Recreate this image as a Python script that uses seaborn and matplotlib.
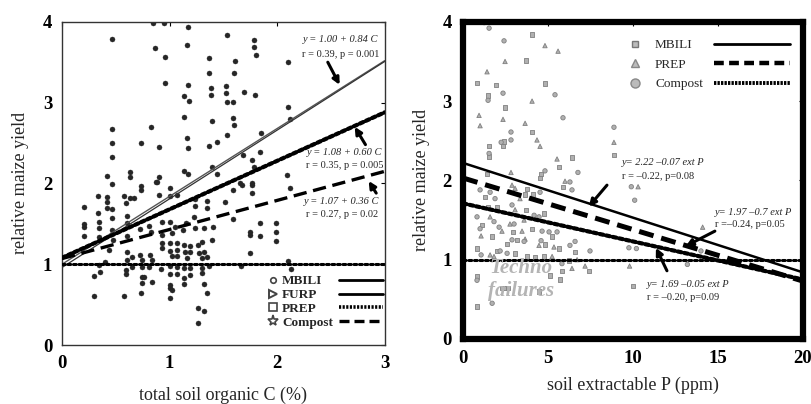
import matplotlib
matplotlib.use("Agg")
import matplotlib.pyplot as plt
import matplotlib.transforms as mtransforms
from matplotlib.lines import Line2D
import seaborn as sns
import pandas as pd
import numpy as np

sns.set_theme(style="white")
plt.rcParams['font.family'] = ['Liberation Serif', 'DejaVu Serif']

# ---------------- Left panel data: total soil organic C (%) vs relative yield
soc_x_upper = [0.46,0.85,0.95,1.17,0.86,0.96,1.16,1.37,1.37,0.96,1.17,1.38,1.38,1.13,1.18,1.13,1.39,0.46,0.83,0.46,
               0.73,0.90,1.16,1.17,1.37,1.44,0.46,0.42,0.63,0.63,0.90,0.87,1.13,1.17,1.39,1.44,
               1.53,1.78,1.78,1.80,1.61,2.10,1.60,1.52,1.52,1.69,1.79,1.53,1.59,2.10,1.59,1.60,2.12,1.53,1.85,1.68,
               1.77,1.84,1.78,2.09,1.65,1.77,
               1.59,1.67,1.77,1.77,2.12,1.51,1.59,1.84,1.99,1.75,1.75,1.84,1.99,1.99,1.75,1.66,2.10,2.13]
soc_y_upper = [3.79,3.99,3.99,3.94,3.67,3.57,3.71,3.55,3.37,3.24,3.22,3.18,3.10,3.08,3.02,2.82,2.77,2.67,2.70,2.50,
               2.50,2.45,2.56,2.44,2.46,2.51,2.33,2.09,2.14,2.08,2.08,2.02,2.15,2.12,2.20,2.12,
               3.84,3.78,3.69,3.59,3.52,3.50,3.37,3.21,3.12,3.13,3.10,3.01,3.01,2.94,2.81,2.72,2.80,2.60,2.63,2.35,
               2.29,2.39,2.20,2.10,2.01,2.01,
               1.92,1.98,1.98,1.88,1.94,1.77,1.56,1.51,1.51,1.40,1.36,1.35,1.40,1.29,1.14,0.98,1.04,0.94]
soc_x_lower = [0.46,0.73,0.73,0.88,0.33,0.42,0.42,0.58,0.63,0.67,0.20,0.42,0.46,0.33,0.59,0.90,1.00,1.00,1.07,1.24,
               1.24,1.35,1.35,0.20,0.20,0.34,0.34,0.46,0.46,0.60,0.60,0.20,0.34,0.47,0.60,0.72,0.81,0.83,0.93,1.00,
               1.05,0.93,1.02,1.12,1.15,1.23,1.24,1.32,1.40,0.93,0.93,1.00,1.00,1.07,1.07,1.13,1.14,1.19,1.19,1.26,
               1.27,1.30,1.32,1.39,1.02,1.07,1.16,1.30,1.35,0.44,0.60,0.65,0.72,0.74,0.82,0.84,0.60,0.40,0.34,0.30,
               0.35,0.59,0.59,0.65,0.74,0.74,0.81,0.92,1.00,1.00,1.07,1.07,1.13,1.13,1.19,1.19,1.30,1.30,1.37,0.74,
               0.76,0.84,1.00,1.00,1.02,1.13,1.32,0.30,0.58,0.73,1.00,1.26,1.32,1.26,1.35]
soc_y_lower = [1.99,1.97,1.92,2.02,1.85,1.83,1.77,1.85,1.82,1.82,1.71,1.70,1.68,1.63,1.76,1.86,1.94,1.85,1.86,1.81,
               1.72,1.78,1.70,1.50,1.46,1.52,1.45,1.57,1.42,1.60,1.51,1.35,1.34,1.30,1.35,1.44,1.47,1.40,1.52,1.52,
               1.46,1.36,1.39,1.42,1.51,1.59,1.45,1.45,1.46,1.26,1.20,1.26,1.16,1.26,1.18,1.24,1.15,1.23,1.15,1.24,
               1.14,1.28,1.15,1.30,1.10,1.10,1.08,1.08,1.09,1.18,1.15,1.09,1.11,1.05,1.11,1.05,1.05,1.03,0.99,0.85,
               0.90,0.93,0.88,0.97,0.97,0.84,0.97,0.94,0.98,0.88,0.97,0.88,0.95,0.83,0.95,0.87,0.95,0.89,0.98,0.77,
               0.84,0.78,0.74,0.71,0.68,0.76,0.76,0.61,0.61,0.64,0.58,0.46,0.42,0.27,0.64]

# regression lines (intercept, slope) for left panel
soc_line_names = ["MBILI", "FURP", "PREP", "Compost"]
soc_intercepts = [1.00, 0.96, 1.08, 1.07]
soc_slopes = [0.84, 0.85, 0.60, 0.36]
soc_eq_text = ["y = 1.00 + 0.84 C", "y = 1.08 + 0.60 C", "y = 1.07 + 0.36 C"]
soc_stat_text = ["r = 0.39, p = 0.001", "r = 0.35, p = 0.005", "r = 0.27, p = 0.02"]

# ---------------- Right panel data: soil extractable P (ppm)
mbili_p = [4.06,3.71,0.82,1.94,4.82,1.47,2.47,4.06,2.41,1.53,2.35,1.53,8.88,6.41,5.65,4.59,1.41,10.0,
           1.29,3.76,4.12,3.65,5.88,4.53,1.12,1.47,2.00,4.76,3.71,1.71,2.94,4.06,3.18,5.24,4.82,5.65,6.59,2.59,
           2.00,3.06,0.82,3.76,4.24,6.24,5.82,7.41,4.76,5.12,5.71,0.82,2.29,2.47,2.65,4.47,0.82]
mbili_y = [3.84,3.51,3.23,3.20,3.22,3.07,2.92,2.61,2.49,2.43,2.43,2.30,2.32,2.29,2.17,2.08,2.08,0.67,
           1.79,1.89,1.82,1.82,1.92,2.03,1.44,1.66,1.66,1.58,1.63,1.29,1.35,1.39,1.25,1.29,1.19,1.14,1.10,1.20,
           1.11,1.08,1.14,1.04,1.03,0.99,0.86,0.86,1.04,0.80,0.75,0.79,0.64,0.64,0.64,0.60,0.41]
prep_p = [4.82,5.59,2.47,1.41,4.06,0.94,1.00,2.35,3.65,4.35,4.53,8.88,5.53,2.82,10.3,14.1,9.8,2.88,3.06,3.35,
          6.00,1.59,2.76,3.59,3.06,1.06,2.29,3.47,3.65,4.47,5.35,1.59,1.82,5.24,6.71,6.41,7.18]
prep_y = [3.70,3.63,3.50,3.37,3.00,2.82,2.69,2.77,2.72,2.51,2.43,2.48,2.27,2.10,1.92,1.41,0.92,1.94,1.90,1.77,
          1.99,1.54,1.45,1.50,1.63,1.30,1.36,1.36,1.26,1.18,1.16,1.06,1.04,1.04,1.00,0.89,0.92]
compost_p = [1.53,1.24,2.41,2.35,5.41,1.47,5.88,2.82,2.82,2.24,1.53,8.88,4.82,6.76,9.9,10.1,10.2,13.2,14.0,
             1.00,1.59,1.88,4.53,6.29,6.41,0.82,1.82,2.12,3.00,4.18,4.47,2.88,1.00,2.88,3.59,4.65,5.06,5.53,4.59,
             6.29,6.59,7.47,2.18,2.59,1.06,5.82,0.82,1.71,9.76]
compost_y = [3.92,3.99,3.76,3.10,3.08,3.01,2.79,2.61,2.51,2.48,2.34,2.67,2.12,2.10,1.92,1.75,1.14,0.94,1.11,
             1.88,1.85,1.77,1.85,1.98,1.88,1.54,1.48,1.41,1.45,1.56,1.54,1.69,1.39,1.25,1.23,1.36,1.35,1.35,1.24,
             1.18,1.23,1.11,1.11,1.08,1.06,0.95,0.74,0.45,1.15]

p_line_names = ["MBILI", "PREP", "Compost"]
p_intercepts = [2.22, 2.03, 1.71]
p_slopes = [-0.069, -0.065, -0.048]
p_eq_text = ["y= 2.22 \u20130.07 ext P", "y= 1.97 \u20130.7 ext P", "y= 1.69 \u20130.05 ext P"]
p_stat_text = ["r = \u20130.22, p=0.08", "r =\u20130.24, p=0.05", "r = \u20130.20, p=0.09"]

# ---------------- figure
fig = plt.figure(figsize=(8.11, 4.04), dpi=100)
ax1 = fig.add_axes([0.0765, 0.146, 0.398, 0.800])
ax2 = fig.add_axes([0.571, 0.161, 0.419, 0.785])

tick_font = dict(fontsize=13.5, fontweight='bold')
DOT = (0, (0.9, 0.9))

# ----- left panel
df_soc = pd.DataFrame({"C": soc_x_upper + soc_x_lower, "yield": soc_y_upper + soc_y_lower})
sns.scatterplot(data=df_soc, x="C", y="yield", ax=ax1, color="#262626", s=13, marker="o",
                edgecolor="#262626", linewidth=0.3, zorder=2, legend=False)

xs = np.array([0.0, 3.0])
soc_styles = [dict(color="#555555", lw=1.0, ls="-"),
              dict(color="#333333", lw=0.9, ls="-"),
              dict(color="black", lw=3.0, ls=(0, (0.9, 0.7)), dash_capstyle="round"),
              dict(color="black", lw=2.4, ls=(0, (4, 2)))]
for b0, b1, st in zip(soc_intercepts, soc_slopes, soc_styles):
    ax1.plot(xs, b0 + b1 * xs, zorder=3, **st)
ax1.axhline(1.0, color="black", lw=2.2, ls=DOT, dash_capstyle="round", zorder=3)

eq_pos_l = [(2.59, 3.78, 3.59), (2.63, 2.38, 2.22), (2.60, 1.77, 1.61)]
for (xx, ye, ys), te, ts in zip(eq_pos_l, soc_eq_text, soc_stat_text):
    ax1.text(xx, ye, te, ha="center", va="center", fontsize=7.5, style="italic")
    ax1.text(xx, ys, ts, ha="center", va="center", fontsize=7.5)
arrows_l = [((2.47, 3.50), (2.58, 3.22)), ((2.82, 2.48), (2.72, 2.70)), ((2.92, 1.88), (2.85, 2.03))]
for tail, head in arrows_l:
    ax1.annotate("", xy=head, xytext=tail,
                 arrowprops=dict(arrowstyle="-|>", lw=2.2, color="black", mutation_scale=10,
                                 shrinkA=0, shrinkB=0))

ax1.set_xlim(0, 3)
ax1.set_ylim(0, 4)
ax1.set_xticks([0, 1, 2, 3])
ax1.set_yticks([0, 1, 2, 3, 4])
ax1.set_xticklabels(["0", "1", "2", "3"], **tick_font)
ax1.set_yticklabels(["0", "1", "2", "3", "4"], **tick_font)
ax1.set_xlabel("total soil organic C (%)", fontsize=13, labelpad=11)
ax1.set_ylabel("relative maize yield", fontsize=13, labelpad=10)
ax1.tick_params(direction="in", length=3, width=0.8, top=True, right=True, pad=7, colors="black")
for sp in ax1.spines.values():
    sp.set_color("#333333")
    sp.set_linewidth(1.0)

mk_handles = [Line2D([], [], ls="", marker="o", ms=4, mfc="white", mec="#444444", mew=1.2),
              Line2D([], [], ls="", marker=">", ms=6, mfc="white", mec="#444444", mew=1.4),
              Line2D([], [], ls="", marker="s", ms=5.5, mfc="white", mec="#444444", mew=1.2),
              Line2D([], [], ls="", marker="*", ms=8, mfc="white", mec="#444444", mew=1.2)]
leg1 = ax1.legend(mk_handles, soc_line_names, loc="upper left", bbox_to_anchor=(0.60, 0.245),
                  frameon=False, handletextpad=0.1, labelspacing=0.12, borderpad=0.2,
                  prop=dict(family="Liberation Serif", weight="bold", size=9.5), handlelength=1.2)
ax1.add_artist(leg1)
ln_handles = [Line2D([], [], color="black", lw=2.0, ls="-"),
              Line2D([], [], color="black", lw=2.0, ls="-"),
              Line2D([], [], color="black", lw=2.6, ls=(0, (0.6, 0.4))),
              Line2D([], [], color="black", lw=2.4, ls=(0, (3, 1.5)))]
ax1.legend(ln_handles, [""] * 4, loc="upper left", bbox_to_anchor=(0.83, 0.245),
           frameon=False, handlelength=3.3, labelspacing=0.12, borderpad=0.2,
           handletextpad=0.0, prop=dict(size=9.5))

# ----- right panel
df_p = pd.DataFrame({
    "P": mbili_p + prep_p + compost_p,
    "yield": mbili_y + prep_y + compost_y,
    "trt": ["MBILI"] * len(mbili_p) + ["PREP"] * len(prep_p) + ["Compost"] * len(compost_p)})
sns.scatterplot(data=df_p, x="P", y="yield", style="trt", ax=ax2,
                markers={"MBILI": "s", "PREP": "^", "Compost": "o"},
                color="#b0b0b0", edgecolor="#808080", linewidth=0.6, s=10, legend=False, zorder=2)

xp = np.array([0.0, 20.0])
p_styles = [dict(color="black", lw=1.8, ls="-"),
            dict(color="black", lw=3.6, ls=(0, (3, 1.6))),
            dict(color="black", lw=3.0, ls=(0, (0.9, 0.7)), dash_capstyle="round")]
for b0, b1, st in zip(p_intercepts, p_slopes, p_styles):
    ax2.plot(xp, b0 + b1 * xp, zorder=3, **st)
ax2.axhline(1.0, color="black", lw=2.2, ls=DOT, dash_capstyle="round", zorder=3)

eq_pos_r = [(9.35, 2.22, 2.05), (14.82, 1.60, 1.44), (10.82, 0.69, 0.52)]
for (xx, ye, ys), te, ts in zip(eq_pos_r, p_eq_text, p_stat_text):
    ax2.text(xx, ye, te, ha="left", va="center", fontsize=7.5, style="italic")
    ax2.text(xx, ys, ts, ha="left", va="center", fontsize=7.5)
arrows_r = [((8.47, 1.94), (7.40, 1.67)), ((14.82, 1.36), (13.10, 1.17)), ((12.0, 0.86), (11.35, 1.15))]
for tail, head in arrows_r:
    ax2.annotate("", xy=head, xytext=tail,
                 arrowprops=dict(arrowstyle="-|>", lw=2.2, color="black", mutation_scale=10,
                                 shrinkA=0, shrinkB=0))

ax2.text(3.4, 0.89, "Techno", ha="center", va="center", fontsize=15, style="italic",
         fontweight="bold", color="#b4b4b4", zorder=4)
ax2.text(3.4, 0.60, "failures", ha="center", va="center", fontsize=15, style="italic",
         fontweight="bold", color="#b4b4b4", zorder=4)

ax2.set_xlim(0, 20)
ax2.set_ylim(0, 4)
ax2.set_xticks([0, 5, 10, 15, 20])
ax2.set_yticks([0, 1, 2, 3, 4])
ax2.set_xticklabels(["0", "5", "10", "15", "20"], **tick_font)
ax2.set_yticklabels(["0", "1", "2", "3", "4"], **tick_font)
last = ax2.get_xticklabels()[-1]
last.set_transform(last.get_transform() + mtransforms.ScaledTranslation(-4 / 72, 0, fig.dpi_scale_trans))
ax2.set_xlabel("soil extractable P (ppm)", fontsize=13, labelpad=7)
ax2.set_ylabel("relative maize yield", fontsize=13, labelpad=9)
ax2.tick_params(direction="in", length=3, width=0.8, top=True, right=True, pad=8, colors="black")
for sp in ax2.spines.values():
    sp.set_color("black")
    sp.set_linewidth(4.5)

mk2 = [Line2D([], [], ls="", marker="s", ms=5, mfc="#bbbbbb", mec="#777777", mew=1.0),
       Line2D([], [], ls="", marker="^", ms=6, mfc="#bbbbbb", mec="#888888", mew=1.0),
       Line2D([], [], ls="", marker="o", ms=6.5, mfc="#bbbbbb", mec="#888888", mew=1.0)]
leg3 = ax2.legend(mk2, p_line_names, loc="upper left", bbox_to_anchor=(0.46, 0.975),
                  frameon=False, handletextpad=1.0, labelspacing=0.55, borderpad=0.2,
                  prop=dict(family="Liberation Serif", size=9.5), handlelength=1.0)
ax2.add_artist(leg3)
ln2 = [Line2D([], [], color="black", lw=2.0, ls="-"),
       Line2D([], [], color="black", lw=3.2, ls=(0, (2.2, 1.2))),
       Line2D([], [], color="black", lw=2.8, ls=(0, (0.6, 0.3)))]
ax2.legend(ln2, [""] * 3, loc="upper left", bbox_to_anchor=(0.71, 0.975),
           frameon=False, handlelength=5.8, labelspacing=0.55, borderpad=0.2,
           handletextpad=0.0, prop=dict(size=9.5))

fig.savefig("out.png", dpi=100)
